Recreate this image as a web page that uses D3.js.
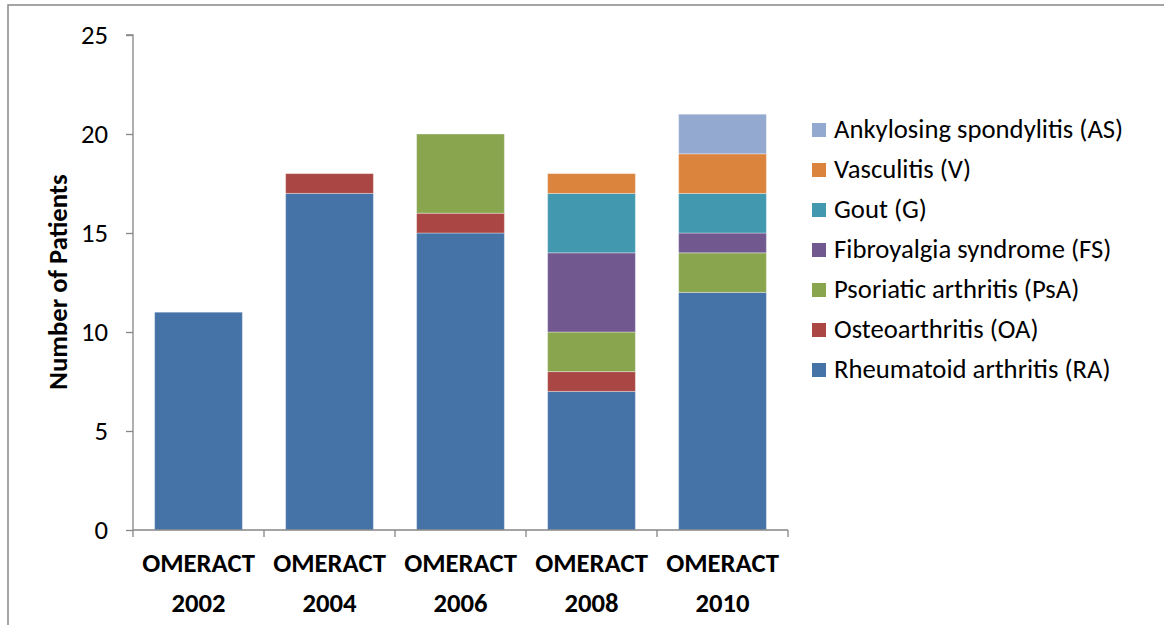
<!DOCTYPE html>
<html><head><meta charset="utf-8">
<script src="https://cdn.jsdelivr.net/npm/d3@7"></script>
<style>
body{margin:0;background:#fff;}
text{font-family:Carlito,Calibri,Lato,sans-serif;fill:#000;}
</style></head><body>
<svg id="c" width="1164" height="625"></svg>
<script>
const categories = ["OMERACT 2002","OMERACT 2004","OMERACT 2006","OMERACT 2008","OMERACT 2010"];
const seriesNames = ["Rheumatoid arthritis (RA)","Osteoarthritis (OA)","Psoriatic arthritis (PsA)","Fibroyalgia syndrome (FS)","Gout (G)","Vasculitis (V)","Ankylosing spondylitis (AS)"];
const RA  = [11,17,15,7,12];
const OA  = [0,1,1,1,0];
const PsA = [0,0,4,2,2];
const FS  = [0,0,0,4,1];
const G   = [0,0,0,3,2];
const V   = [0,0,0,1,2];
const AS  = [0,0,0,0,2];
const colors = ["#4572A7","#AA4643","#89A54E","#71588F","#4198AF","#DB843D","#93A9CF"];
const yTicks = [0,5,10,15,20,25];

const seriesVals = [RA,OA,PsA,FS,G,V,AS];
const rows = categories.map((c,i)=>{const o={cat:c}; seriesNames.forEach((s,j)=>o[s]=seriesVals[j][i]); return o;});
const stack = d3.stack().keys(seriesNames)(rows);

const FONT = "Carlito,Calibri,Lato,sans-serif";
const FS_ = 26.7;

const svg = d3.select("#c");
svg.append("rect").attr("x",8).attr("y",5).attr("width",1170).attr("height",640)
  .attr("fill","none").attr("stroke","#888").attr("stroke-width",1.5);

const x0=133, x1=788, yTop=35, yBot=530;
const x = d3.scaleBand().domain(categories).range([x0,x1]).paddingInner(0.33).paddingOuter(0.165);
const y = d3.scaleLinear().domain([0,25]).range([yBot,yTop]);

svg.append("g").selectAll("g").data(stack).join("g")
  .attr("fill",(d,i)=>colors[i])
  .selectAll("rect").data(d=>d.filter(s=>s[1]-s[0]>0)).join("rect")
  .attr("x",d=>x(d.data.cat)).attr("width",x.bandwidth())
  .attr("y",d=>y(d[1])).attr("height",d=>y(d[0])-y(d[1]))
  .attr("stroke","#ffffff").attr("stroke-opacity",0.35).attr("stroke-width",1);

const ya = svg.append("g").attr("transform",`translate(${x0},0)`)
  .call(d3.axisLeft(y).tickValues(yTicks).tickSize(7).tickPadding(18));
ya.select(".domain").attr("stroke","#868686").attr("stroke-width",1.3).attr("d",`M-7,${yTop}H0V${yBot}`);
ya.selectAll(".tick line").attr("stroke","#868686").attr("stroke-width",1.3);
ya.selectAll(".tick text").attr("font-size",FS_).attr("fill","#000").attr("font-family",FONT);

const xa = svg.append("g").attr("transform",`translate(0,${yBot})`)
  .call(d3.axisBottom(x).tickSize(0).tickFormat(""));
xa.select(".domain").attr("stroke","#868686").attr("stroke-width",1.3).attr("d",`M${x0},0H${x1}`);
const bounds = d3.range(categories.length+1).map(i=>x0+i*(x1-x0)/categories.length);
xa.selectAll(".bnd").data(bounds).join("line").attr("class","bnd")
  .attr("x1",d=>d).attr("x2",d=>d).attr("y1",0).attr("y2",7)
  .attr("stroke","#868686").attr("stroke-width",1.3);
const lbl = svg.append("g").selectAll("text").data(categories).join("text")
  .attr("text-anchor","middle").attr("font-size",FS_).attr("font-weight","bold")
  .attr("x",d=>x(d)+x.bandwidth()/2).attr("y",572);
lbl.each(function(d){
  const parts=d.split(" ");
  const t=d3.select(this);
  t.append("tspan").attr("x",x(d)+x.bandwidth()/2).attr("dy",0).text(parts[0]);
  t.append("tspan").attr("x",x(d)+x.bandwidth()/2).attr("dy",40).text(parts[1]);
});

svg.append("text").attr("transform","translate(67,282) rotate(-90)")
  .attr("text-anchor","middle").attr("font-size",FS_).attr("font-weight","bold")
  .text("Number of Patients");

const legOrder = seriesNames.map((s,i)=>({s,c:colors[i]})).reverse();
const lg = svg.append("g").selectAll("g").data(legOrder).join("g")
  .attr("transform",(d,i)=>`translate(812,${130+i*40})`);
lg.append("rect").attr("x",0).attr("y",-7).attr("width",14).attr("height",14).attr("fill",d=>d.c);
lg.append("text").attr("x",22).attr("y",8).attr("font-size",FS_).text(d=>d.s);
</script>
</body></html>
